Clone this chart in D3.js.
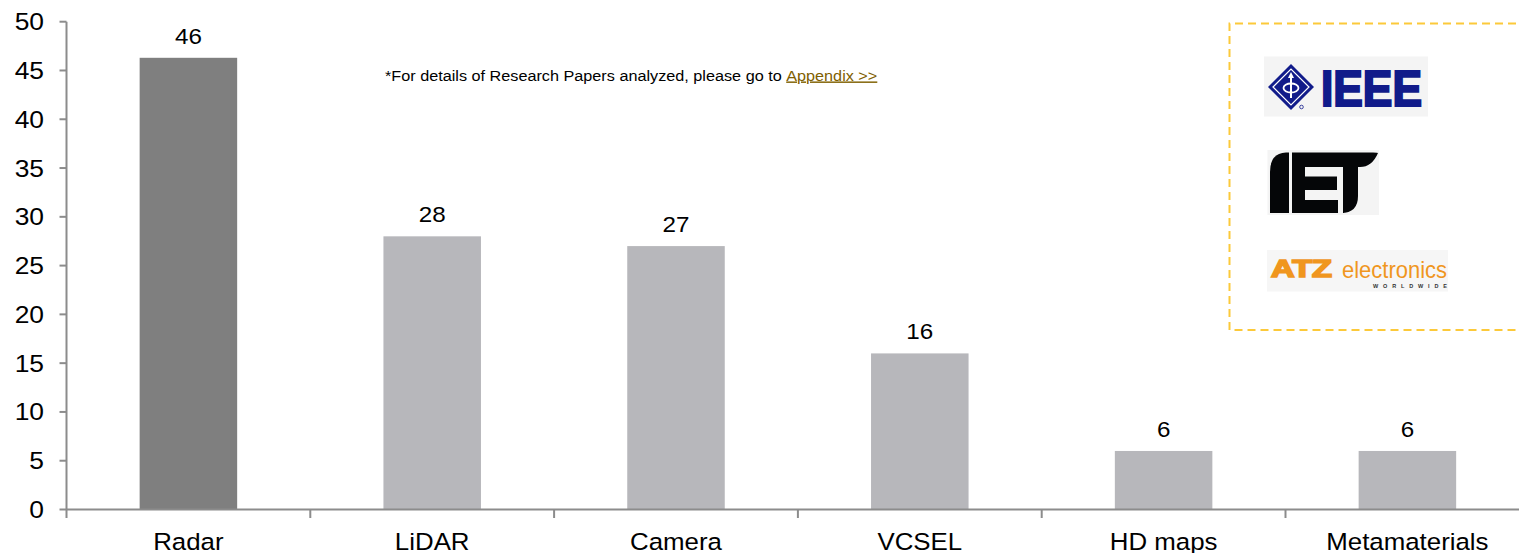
<!DOCTYPE html>
<html>
<head>
<meta charset="utf-8">
<script src="https://cdn.jsdelivr.net/npm/d3@7"></script>
<style>
  html, body { margin: 0; padding: 0; background: #ffffff; }
  svg { display: block; font-family: "Liberation Sans", Arial, sans-serif; }
</style>
</head>
<body>
<svg id="chart" width="1519" height="553"></svg>
<script>
// ---- data ----
const categories = ["Radar", "LiDAR", "Camera", "VCSEL", "HD maps", "Metamaterials"];
const values = [46.3, 28, 27, 16, 6, 6];
const valueLabels = ["46", "28", "27", "16", "6", "6"];
const barColors = ["#7f7f7f", "#b7b7bb", "#b7b7bb", "#b7b7bb", "#b7b7bb", "#b7b7bb"];
const yTicks = [0, 5, 10, 15, 20, 25, 30, 35, 40, 45, 50];
const noteText = "*For details of Research Papers analyzed, please go to ";
const noteLink = "Appendix >>";

// ---- layout ----
const W = 1519, H = 553;
const axisX = 66.5, y0 = 509.5, y50 = 21.7;
const step = 243.8;
const SX = 1.1; // horizontal text stretch seen in the source

const svg = d3.select("#chart");
const y = d3.scaleLinear().domain([0, 50]).range([y0, y50]);
const x = d3.scaleBand().domain(categories)
  .range([axisX, axisX + step * categories.length])
  .paddingInner(0.6).paddingOuter(0.3);

const axisColor = "#8c8c8c";

function stretchText(sel, size) {
  sel.attr("font-size", size)
     .attr("transform", d => `translate(${d.tx},${d.ty}) scale(${SX},1)`)
     .attr("x", 0).attr("y", 0);
}

// bars
svg.append("g").selectAll("rect").data(categories).join("rect")
  .attr("x", d => x(d))
  .attr("width", x.bandwidth())
  .attr("y", (d, i) => y(values[i]))
  .attr("height", (d, i) => y(0) - y(values[i]))
  .attr("fill", (d, i) => barColors[i]);

// value labels
svg.append("g").selectAll("text").data(categories.map((c, i) => ({
    t: valueLabels[i], tx: x(c) + x.bandwidth() / 2, ty: y(values[i]) - 14
  }))).join("text")
  .attr("text-anchor", "middle").attr("fill", "#000")
  .text(d => d.t)
  .call(stretchText, 22);

// y axis
const yAxis = svg.append("g");
yAxis.append("line").attr("x1", axisX).attr("x2", axisX)
  .attr("y1", y(50)).attr("y2", y0 + 8.5)
  .attr("stroke", axisColor).attr("stroke-width", 2);
yAxis.selectAll("line.tick").data(yTicks).join("line").attr("class", "tick")
  .attr("x1", axisX - 7).attr("x2", axisX)
  .attr("y1", d => y(d)).attr("y2", d => y(d))
  .attr("stroke", axisColor).attr("stroke-width", 2);
yAxis.selectAll("text").data(yTicks.map(v => ({ t: String(v), tx: 44, ty: y(v) + 8.5 })))
  .join("text").attr("text-anchor", "end").attr("fill", "#000")
  .text(d => d.t)
  .call(stretchText, 24);

// x axis
const xAxis = svg.append("g");
xAxis.append("line").attr("x1", axisX).attr("x2", W + 20)
  .attr("y1", y0).attr("y2", y0)
  .attr("stroke", axisColor).attr("stroke-width", 2);
const boundaries = categories.slice(1).map(c => x(c) - (x.step() - x.bandwidth()) / 2);
xAxis.selectAll("line.tick").data(boundaries).join("line").attr("class", "tick")
  .attr("x1", d => d).attr("x2", d => d)
  .attr("y1", y0).attr("y2", y0 + 8.5)
  .attr("stroke", axisColor).attr("stroke-width", 2);
xAxis.selectAll("text").data(categories.map(c => ({ t: c, tx: x(c) + x.bandwidth() / 2, ty: 549.5 })))
  .join("text").attr("text-anchor", "middle").attr("fill", "#000")
  .text(d => d.t)
  .call(stretchText, 23.5);

// note
const note = svg.append("text")
  .attr("font-size", 14.5).attr("fill", "#000")
  .attr("transform", "translate(385,80.5) scale(1.12,1)");
note.append("tspan").text(noteText);
note.append("tspan").text(noteLink).attr("fill", "#7f6000").attr("text-decoration", "underline");

// dashed box
svg.append("path")
  .attr("d", `M${W + 10},23.5 H1229.5 V330 H${W + 10}`)
  .attr("fill", "none").attr("stroke", "#fcc93a").attr("stroke-width", 2)
  .attr("stroke-dasharray", "8,5");

// IEEE logo
const ieee = svg.append("g");
ieee.append("rect").attr("x", 1264).attr("y", 56.5).attr("width", 164).attr("height", 60).attr("fill", "#f4f4f4");
const cx = 1291, cy = 87, r = 23;
ieee.append("path").attr("d", `M${cx - r},${cy} L${cx},${cy - r} L${cx + r},${cy} L${cx},${cy + r} Z`).attr("fill", "#111b8a");
ieee.append("path").attr("d", `M${cx - r + 5},${cy} L${cx},${cy - r + 5} L${cx + r - 5},${cy} L${cx},${cy + r - 5} Z`)
  .attr("fill", "none").attr("stroke", "#ffffff").attr("stroke-width", 1.2);
ieee.append("ellipse").attr("cx", cx).attr("cy", cy + 1).attr("rx", 7.5).attr("ry", 4.5)
  .attr("fill", "none").attr("stroke", "#ffffff").attr("stroke-width", 1.8);
ieee.append("line").attr("x1", cx).attr("x2", cx).attr("y1", cy - 12).attr("y2", cy + 11)
  .attr("stroke", "#ffffff").attr("stroke-width", 2);
ieee.append("path").attr("d", `M${cx - 3},${cy - 9} L${cx},${cy - 15} L${cx + 3},${cy - 9} Z`).attr("fill", "#ffffff");
ieee.append("circle").attr("cx", 1301.5).attr("cy", 107).attr("r", 1.8).attr("fill", "none").attr("stroke", "#111b8a").attr("stroke-width", 0.8);
ieee.append("text").attr("x", 1321).attr("y", 106).attr("font-size", 50).attr("font-weight", "bold")
  .attr("fill", "#111b8a").attr("stroke", "#111b8a").attr("stroke-width", 2.2)
  .attr("textLength", 101).attr("lengthAdjust", "spacingAndGlyphs").text("IEEE");

// IET logo
const iet = svg.append("g");
iet.append("rect").attr("x", 1267.5).attr("y", 150).attr("width", 111.5).attr("height", 65).attr("fill", "#f4f4f4");
iet.append("path").attr("fill", "#050608").attr("d",
  "M1270,213 L1270,172 Q1270,153 1286,152.5 L1289,152.5 L1289,213 Z");
iet.append("path").attr("fill", "#050608").attr("d",
  "M1292,152.5 L1373,152.5 Q1378,152.5 1378,153 Q1372,167 1360,167 L1358,167 L1358,196 Q1358,213 1341,213 L1343,213 L1343,167 L1305,167 L1305,176.5 L1337,176.5 L1337,190 L1305,190 L1305,200 L1338,200 L1338,213 L1292,213 Z");

// ATZ logo
const atz = svg.append("g");
atz.append("rect").attr("x", 1267).attr("y", 250).attr("width", 181).attr("height", 41.5).attr("fill", "#f6f6f6");
atz.append("text").attr("x", 1271).attr("y", 277).attr("font-size", 23).attr("font-weight", "bold")
  .attr("fill", "#f0961e").attr("stroke", "#f0961e").attr("stroke-width", 1.6)
  .attr("textLength", 61).attr("lengthAdjust", "spacingAndGlyphs").text("ATZ");
atz.append("text").attr("x", 1342).attr("y", 277.5).attr("font-size", 24)
  .attr("fill", "#f0961e").attr("textLength", 105).attr("lengthAdjust", "spacingAndGlyphs").text("electronics");
atz.append("text").attr("x", 1373).attr("y", 287.5).attr("font-size", 5.5).attr("font-weight", "bold")
  .attr("fill", "#333").attr("textLength", 74).attr("lengthAdjust", "spacing").text("WORLDWIDE");
</script>
</body>
</html>
